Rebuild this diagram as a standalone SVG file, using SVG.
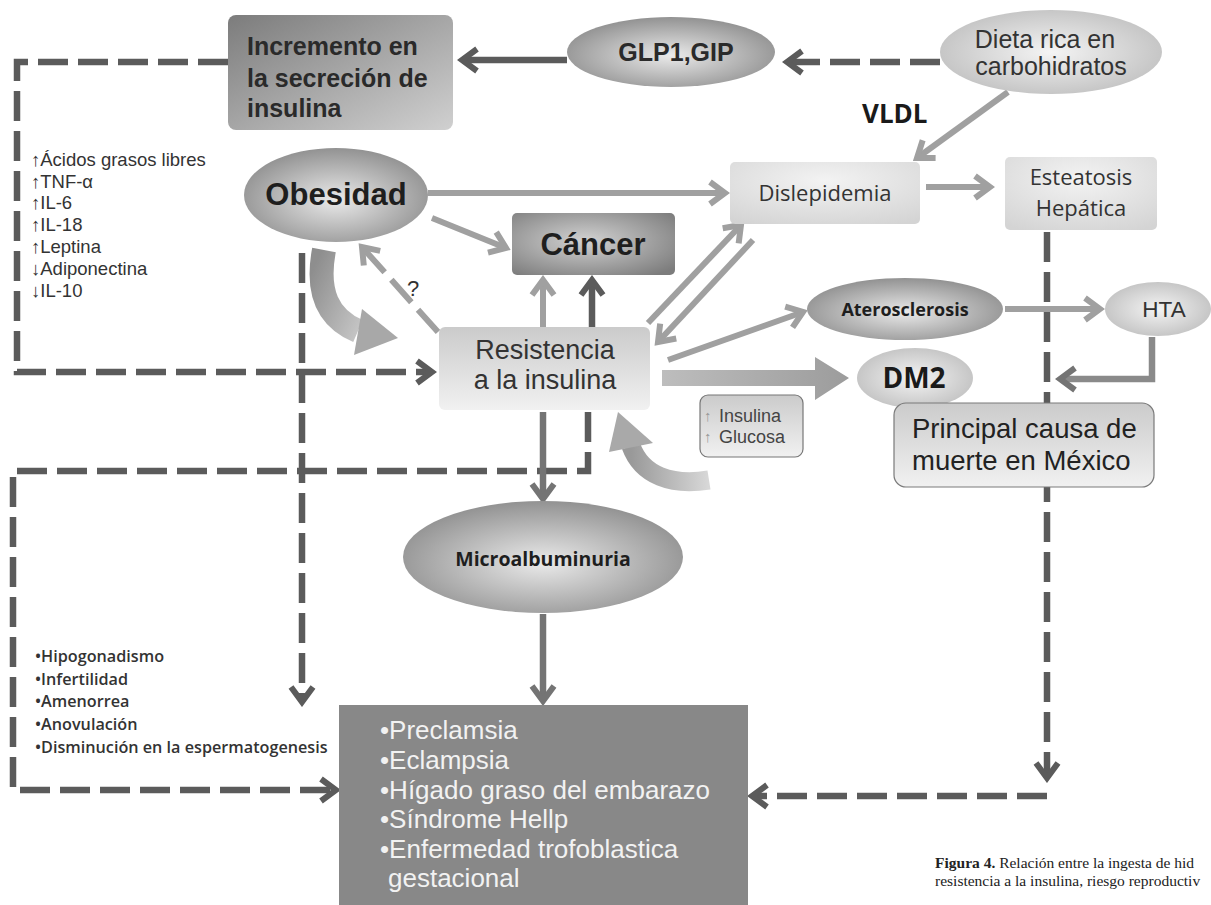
<svg xmlns="http://www.w3.org/2000/svg" width="1211" height="905" viewBox="0 0 1211 905">
<style>
.sans{font-family:"Liberation Sans",Arial,sans-serif}
.os{font-family:"Open Sans","Liberation Sans",sans-serif}
.dk{fill:none;stroke:#5b5b5b;stroke-width:6.5}
.dash{stroke-dasharray:30 10}
.lt{fill:none;stroke:#a0a0a0;stroke-width:6}
.md{fill:none;stroke:#747474;stroke-width:6.5}
.t{fill:#2a2a2a}
</style>
<defs>
<marker id="ad" viewBox="0 0 24 28" markerWidth="24" markerHeight="28" refX="19" refY="14" orient="auto" markerUnits="userSpaceOnUse"><path d="M4,3 L19,14 L4,25" fill="none" stroke="#5b5b5b" stroke-width="6"/></marker>
<marker id="al" viewBox="0 0 24 28" markerWidth="24" markerHeight="28" refX="19" refY="14" orient="auto" markerUnits="userSpaceOnUse"><path d="M4,3 L19,14 L4,25" fill="none" stroke="#a0a0a0" stroke-width="6"/></marker>
<marker id="am" viewBox="0 0 24 28" markerWidth="24" markerHeight="28" refX="19" refY="14" orient="auto" markerUnits="userSpaceOnUse"><path d="M4,3 L19,14 L4,25" fill="none" stroke="#747474" stroke-width="6"/></marker>
<radialGradient id="gDark" cx="0.5" cy="0.55" r="0.6"><stop offset="0" stop-color="#eaeaea"/><stop offset="1" stop-color="#8a8a8a"/></radialGradient>
<radialGradient id="gLightE" cx="0.5" cy="0.5" r="0.6"><stop offset="0" stop-color="#f4f4f4"/><stop offset="1" stop-color="#bdbdbd"/></radialGradient>
<linearGradient id="gInc" x1="0" y1="0" x2="1" y2="1"><stop offset="0" stop-color="#7c7c7c"/><stop offset="1" stop-color="#d0d0d0"/></linearGradient>
<radialGradient id="gCan" cx="0.45" cy="0.45" r="0.7"><stop offset="0" stop-color="#d2d2d2"/><stop offset="1" stop-color="#7c7c7c"/></radialGradient>
<linearGradient id="gBox" x1="0" y1="0" x2="0" y2="1"><stop offset="0" stop-color="#cbcbcb"/><stop offset="1" stop-color="#f1f1f1"/></linearGradient>
<radialGradient id="gBox2" cx="0.5" cy="0.3" r="0.8"><stop offset="0" stop-color="#f3f3f3"/><stop offset="1" stop-color="#d4d4d4"/></radialGradient>
<linearGradient id="gArr" x1="0" y1="0" x2="1" y2="0"><stop offset="0" stop-color="#bdbdbd"/><stop offset="1" stop-color="#9c9c9c"/></linearGradient>
<linearGradient id="gCurve" x1="0" y1="0" x2="1" y2="1"><stop offset="0" stop-color="#8e8e8e"/><stop offset="1" stop-color="#c4c4c4"/></linearGradient>
<linearGradient id="gCurve2" x1="0" y1="0" x2="1" y2="0"><stop offset="0" stop-color="#999"/><stop offset="1" stop-color="#d8d8d8"/></linearGradient>
</defs>

<g id="connectors">
<path class="dk dash" d="M940 62 L787 62" marker-end="url(#ad)"/>
<path class="dk" d="M567 60 L462 60" marker-end="url(#ad)"/>
<path class="dk dash" d="M228 62 L17 62 L17 372 L432 372" marker-end="url(#ad)"/>
<path class="lt" d="M1008 92 L917 158" marker-end="url(#al)"/>
<path class="lt" d="M428 193 L725 193" marker-end="url(#al)"/>
<path class="lt" d="M432 218 L506 248" marker-end="url(#al)"/>
<path class="lt" d="M926 187 L990 187" marker-end="url(#al)"/>
<path class="dk dash" d="M1047 232 L1047 778" marker-end="url(#ad)"/>
<path class="dk dash" d="M1047 796 L752 796" marker-end="url(#ad)"/>
<path class="lt" d="M543 327 L543 280" marker-end="url(#al)"/>
<path class="dk" d="M592 327 L592 280" marker-end="url(#ad)"/>
<path class="dk dash" d="M588 412 L588 471 L13 471 L13 790 L336 790" marker-end="url(#ad)"/>
<path class="dk dash" d="M302 253 L302 702" marker-end="url(#ad)"/>
<path class="lt dash" d="M438 332 L362 247" marker-end="url(#al)"/>
<path class="lt" d="M648 323 L741 225" marker-end="url(#al)"/>
<path class="lt" d="M753 240 L658 342" marker-end="url(#al)"/>
<path class="lt" d="M668 360 L803 312" marker-end="url(#al)"/>
<polygon points="662,370 815,370 815,357 849,378 815,400 815,386 662,386" fill="url(#gArr)"/>
<path class="lt" d="M1005 309 L1100 309" marker-end="url(#al)"/>
<path class="md" style="stroke:#8a8a8a" d="M1152 337 L1152 379 L1060 379" marker-end="url(#am)"/>
<path class="md" d="M543 412 L543 499" marker-end="url(#am)"/>
<path class="md" d="M543 614 L543 701" marker-end="url(#am)"/>
<path d="M324 250 C316 292 328 318 358 331" fill="none" stroke="url(#gCurve)" stroke-width="24"/>
<polygon points="362,309 398,338 354,355" fill="#a8a8a8"/>
<path d="M631 446 C642 476 672 486 709 480" fill="none" stroke="url(#gCurve2)" stroke-width="19"/>
<polygon points="609,452 618,412 653,443" fill="#a9a9a9"/>
</g>

<g id="incremento">
<rect x="228" y="15" width="225" height="115" rx="8" fill="url(#gInc)"/>
<text class="sans t" font-weight="bold" font-size="25" x="247" y="55">Incremento en</text>
<text class="sans t" font-weight="bold" font-size="25" x="247" y="87">la secreción de</text>
<text class="sans t" font-weight="bold" font-size="25" x="247" y="117">insulina</text>
</g>
<g id="glp">
<ellipse cx="671" cy="52" rx="104" ry="35" fill="url(#gDark)"/>
<text class="sans t" font-weight="bold" font-size="25" x="676" y="61" text-anchor="middle">GLP1,GIP</text>
</g>
<g id="dieta">
<ellipse cx="1051" cy="52" rx="111" ry="42" fill="url(#gLightE)"/>
<text class="sans" fill="#333" font-size="25" x="1045" y="48" text-anchor="middle">Dieta rica en</text>
<text class="sans" fill="#333" font-size="25" x="1051" y="75" text-anchor="middle">carbohidratos</text>
</g>
<g id="vldl">
<text class="os" fill="#1a1a1a" font-weight="bold" font-size="26" x="862" y="123">VLDL</text>
</g>
<g id="obesidad">
<ellipse cx="336" cy="195" rx="92" ry="47" fill="url(#gDark)"/>
<text class="sans" fill="#1e1e1e" font-weight="bold" font-size="31" x="336" y="205" text-anchor="middle">Obesidad</text>
</g>
<g id="dislepidemia">
<rect x="730" y="162" width="190" height="62" rx="5" fill="url(#gBox2)"/>
<text class="os" fill="#333" font-size="22" x="825" y="201" text-anchor="middle">Dislepidemia</text>
</g>
<g id="esteatosis">
<rect x="1005" y="157" width="152" height="73" rx="5" fill="url(#gBox2)"/>
<text class="os" fill="#333" font-size="22" x="1081" y="185" text-anchor="middle">Esteatosis</text>
<text class="os" fill="#333" font-size="22" x="1081" y="216" text-anchor="middle">Hepática</text>
</g>
<g id="cancer">
<rect x="512" y="213" width="163" height="62" rx="5" fill="url(#gCan)"/>
<text class="sans" fill="#1e1e1e" font-weight="bold" font-size="31" x="593" y="255" text-anchor="middle">Cáncer</text>
</g>
<g id="pregunta">
<text class="sans" fill="#333" font-size="22" x="407" y="296">?</text>
</g>
<g id="resistencia">
<rect x="439" y="327" width="211" height="83" rx="6" fill="url(#gBox)"/>
<text class="sans" fill="#333" font-size="27" x="545" y="359" text-anchor="middle">Resistencia</text>
<text class="sans" fill="#333" font-size="27" x="545" y="389" text-anchor="middle">a la insulina</text>
</g>
<g id="aterosclerosis">
<ellipse cx="905" cy="309" rx="98" ry="31" fill="url(#gDark)"/>
<text class="os" fill="#1e1e1e" font-weight="bold" font-size="18" x="905" y="316" text-anchor="middle">Aterosclerosis</text>
</g>
<g id="hta">
<ellipse cx="1158" cy="309" rx="53" ry="27" fill="url(#gLightE)"/>
<text class="sans" fill="#333" font-size="22.5" x="1164" y="317" text-anchor="middle">HTA</text>
</g>
<g id="dm2">
<ellipse cx="915" cy="378" rx="58" ry="30" fill="url(#gLightE)"/>
<text class="os" fill="#1a1a1a" font-weight="bold" font-size="28" x="914" y="388" text-anchor="middle">DM2</text>
</g>
<g id="principal">
<rect x="894" y="403" width="260" height="84" rx="12" fill="url(#gBox)" stroke="#7a7a7a" stroke-width="1.2"/>
<text class="sans" fill="#222" font-size="27.5" x="912" y="438">Principal causa de</text>
<text class="sans" fill="#222" font-size="27.5" x="912" y="470">muerte en México</text>
</g>
<g id="insulina-glucosa">
<rect x="700" y="395" width="103" height="62" rx="8" fill="url(#gBox)" stroke="#777" stroke-width="1.2"/>
<text class="sans" fill="#999" font-size="15" x="704" y="421">↑</text>
<text class="sans" fill="#999" font-size="15" x="704" y="442">↑</text>
<text class="sans" fill="#444" font-size="18" x="719" y="422">Insulina</text>
<text class="sans" fill="#444" font-size="18" x="719" y="443">Glucosa</text>
</g>
<g id="microalbuminuria">
<ellipse cx="543" cy="557" rx="140" ry="56" fill="url(#gDark)"/>
<text class="os" fill="#1e1e1e" font-weight="bold" font-size="19.5" x="543" y="566" text-anchor="middle">Microalbuminuria</text>
</g>
<g id="complicaciones">
<rect x="339" y="705" width="409" height="200" fill="#888888"/>
<g class="sans" fill="#f2f2f2" font-size="26">
<text x="380" y="739">•Preclamsia</text>
<text x="380" y="769">•Eclampsia</text>
<text x="380" y="799">•Hígado graso del embarazo</text>
<text x="380" y="828">•Síndrome Hellp</text>
<text x="380" y="858">•Enfermedad trofoblastica</text>
<text x="388" y="887">gestacional</text>
</g>
</g>
<g id="mediadores" class="sans" fill="#333" font-size="18.5">
<text x="31" y="166">↑Ácidos grasos libres</text>
<text x="31" y="188">↑TNF-α</text>
<text x="31" y="209">↑IL-6</text>
<text x="31" y="231">↑IL-18</text>
<text x="31" y="253">↑Leptina</text>
<text x="31" y="275">↓Adiponectina</text>
<text x="31" y="297">↓IL-10</text>
</g>
<g id="reproductivo" class="os" fill="#333" font-size="16.2" font-weight="600">
<text x="35" y="662">•Hipogonadismo</text>
<text x="35" y="685">•Infertilidad</text>
<text x="35" y="707">•Amenorrea</text>
<text x="35" y="730">•Anovulación</text>
<text x="35" y="753">•Disminución en la espermatogenesis</text>
</g>
<g id="caption" font-family="'Liberation Serif','Times New Roman',serif" font-size="15.5" fill="#222">
<text x="935" y="868"><tspan font-weight="bold">Figura 4.</tspan> Relación entre la ingesta de hid</text>
<text x="935" y="886">resistencia a la insulina, riesgo reproductiv</text>
</g>
</svg>
